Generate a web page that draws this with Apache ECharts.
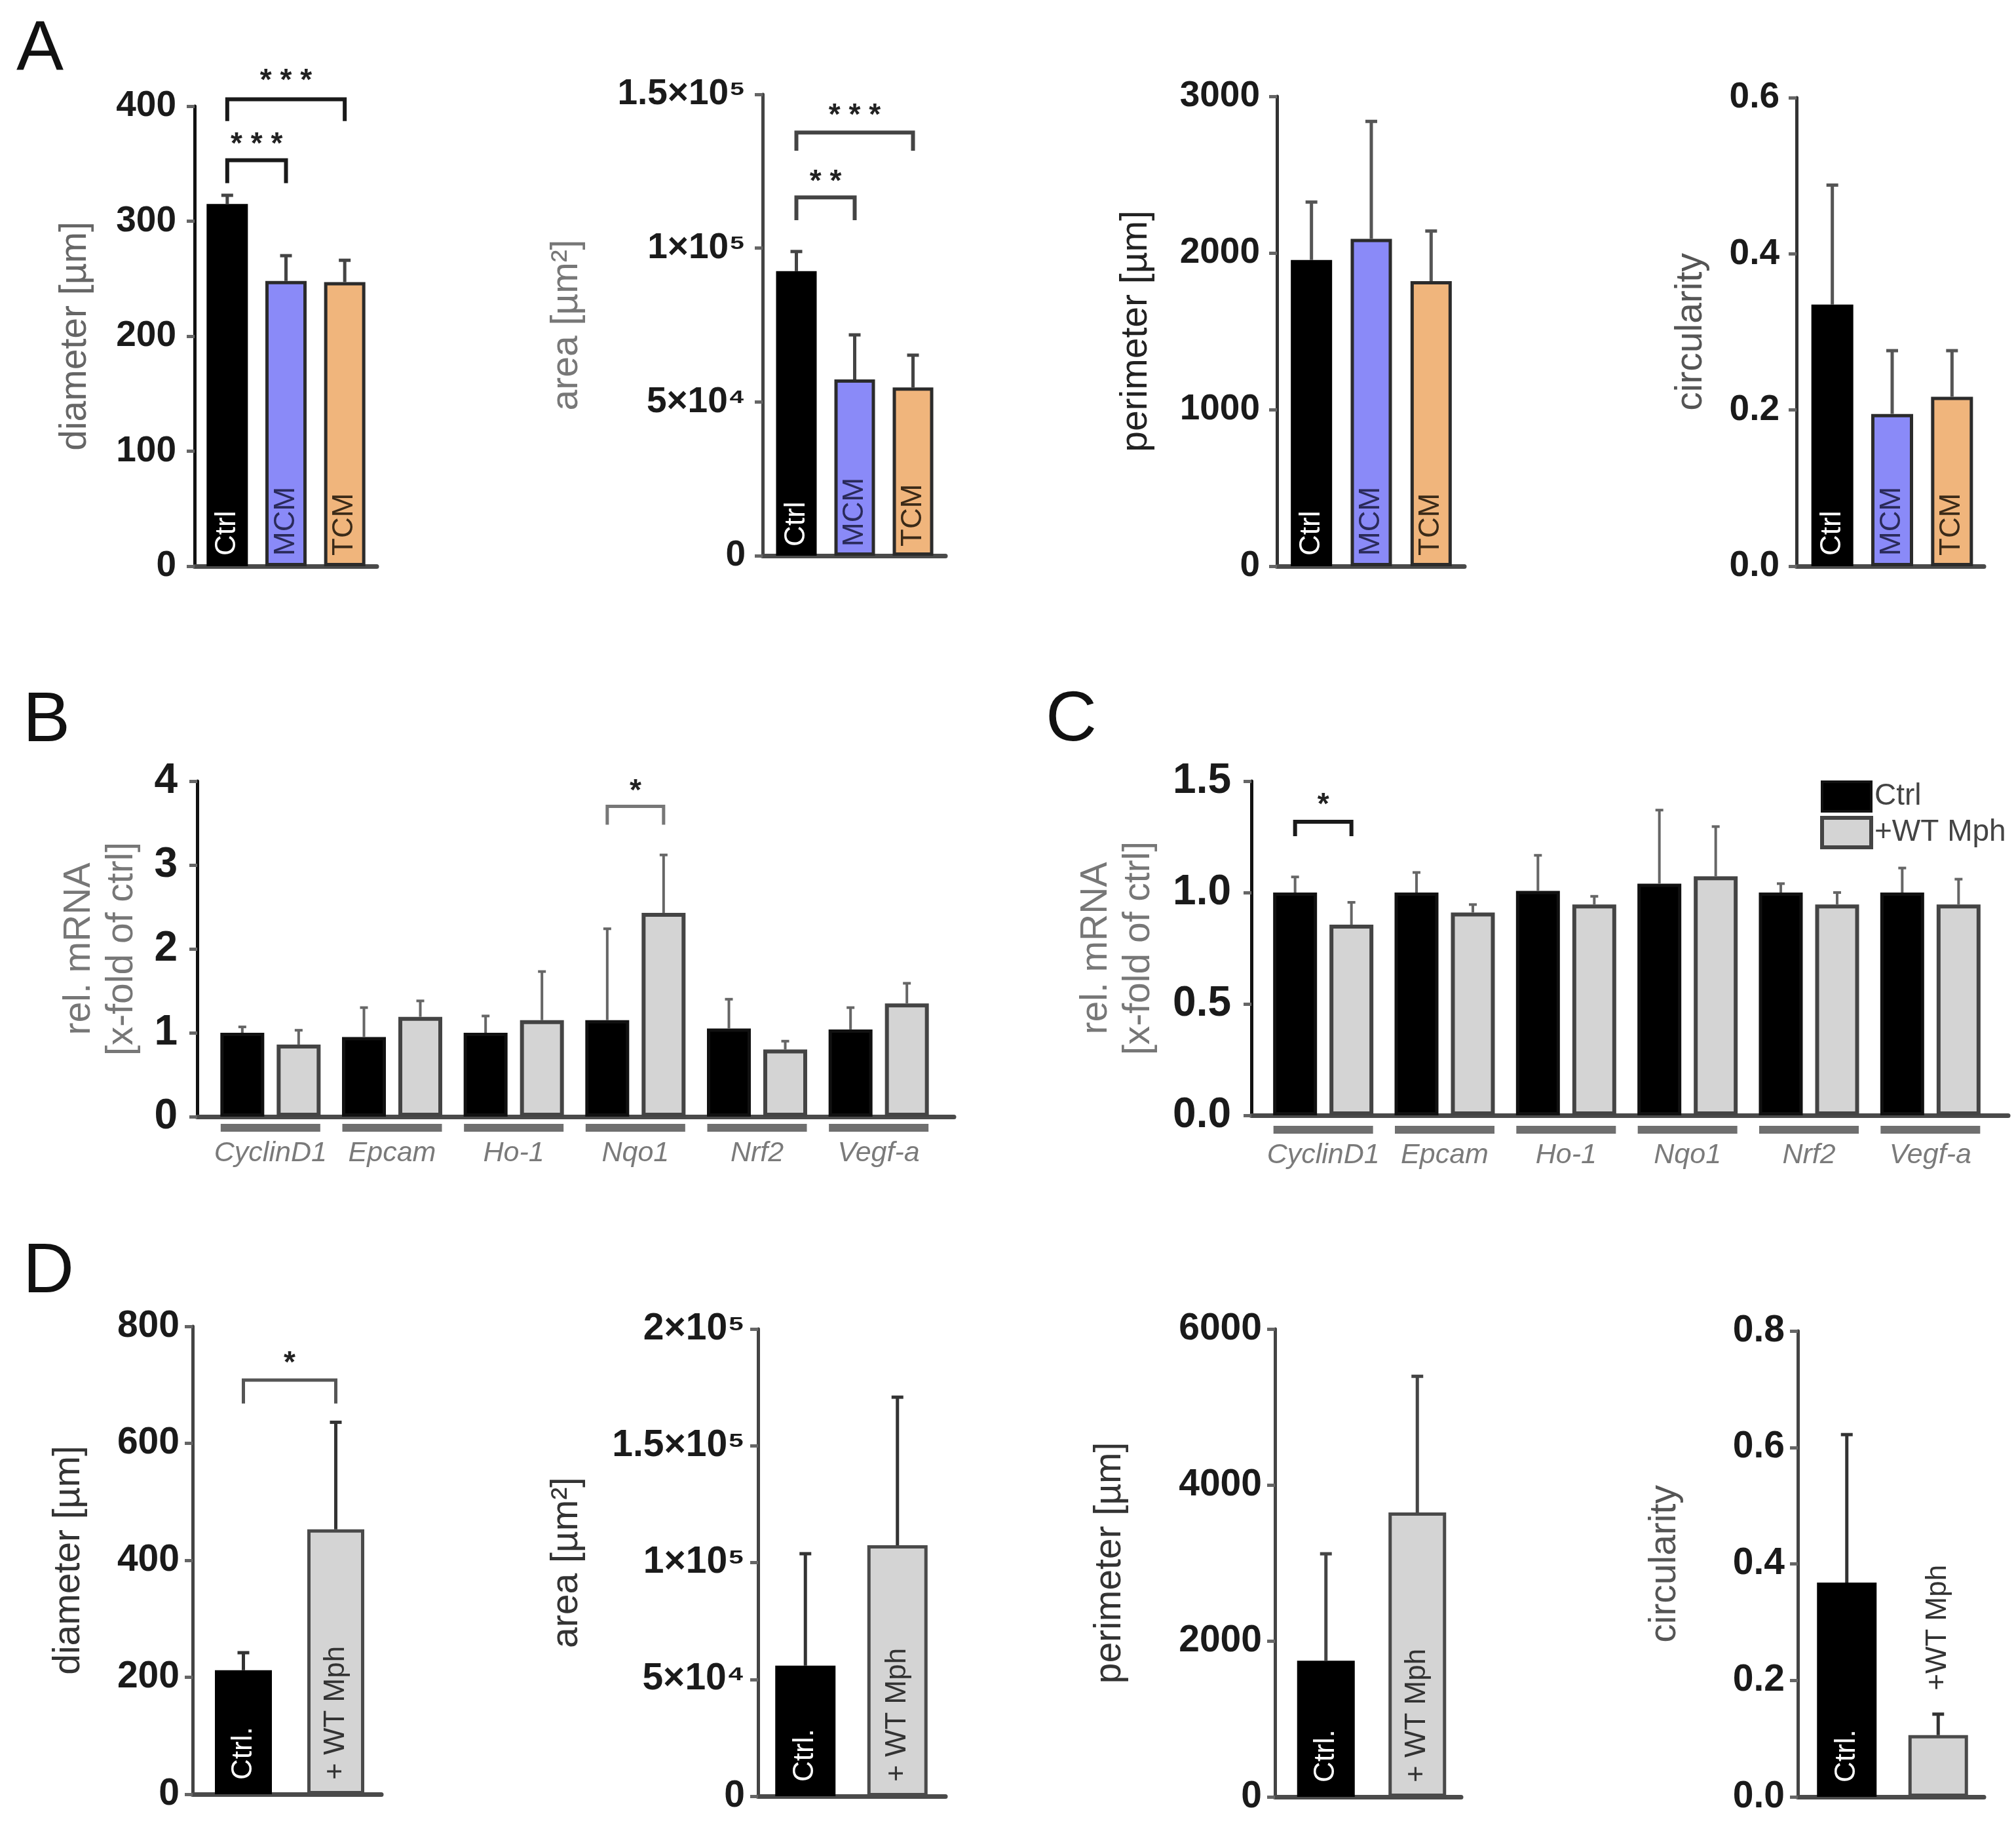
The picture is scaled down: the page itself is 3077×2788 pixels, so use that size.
<!DOCTYPE html>
<html>
<head>
<meta charset="utf-8">
<title>Spheroid size and gene expression</title>
<script src="https://cdn.jsdelivr.net/npm/echarts@6/dist/echarts.min.js"></script>
<style>
  html, body { margin: 0; padding: 0; background: #fff; }
  #chart { width: 3077px; height: 2788px; }
</style>
</head>
<body>
<div id="chart"></div>
<script>
// panel A: Ctrl / MCM / TCM
const groupsA = ['Ctrl', 'MCM', 'TCM'];
const diameterA = [315, 248, 247];
const diameterASd = [7.5, 22, 19];
const areaA = [92500, 57300, 54700];
const areaASd = [6400, 14500, 10500];
const perimeterA = [1955, 2090, 1820];
const perimeterASd = [370, 750, 320];
const circularityA = [0.335, 0.195, 0.217];
const circularityASd = [0.153, 0.081, 0.059];

// panels B and C: rel. mRNA per gene
const genes = ['CyclinD1', 'Epcam', 'Ho-1', 'Nqo1', 'Nrf2', 'Vegf-a'];
const mrnaBCtrl = [1.0, 0.95, 1.0, 1.15, 1.05, 1.04];
const mrnaBCtrlSd = [0.07, 0.35, 0.2, 1.09, 0.35, 0.26];
const mrnaBMph = [0.86, 1.19, 1.15, 2.43, 0.8, 1.35];
const mrnaBMphSd = [0.17, 0.19, 0.58, 0.69, 0.1, 0.24];
const mrnaCCtrl = [1.0, 1.0, 1.007, 1.04, 1.0, 1.0];
const mrnaCCtrlSd = [0.07, 0.09, 0.16, 0.33, 0.04, 0.11];
const mrnaCMph = [0.856, 0.91, 0.946, 1.073, 0.946, 0.946];
const mrnaCMphSd = [0.1, 0.036, 0.037, 0.223, 0.054, 0.114];
const seriesNames = ['Ctrl', '+WT Mph'];

// panel D: Ctrl. / + WT Mph
const groupsD = ['Ctrl.', '+ WT Mph'];
const groupsD4 = ['Ctrl.', '+WT Mph'];
const diameterD = [212, 453];
const diameterDSd = [30, 183];
const areaD = [55900, 107400];
const areaDSd = [47900, 63400];
const perimeterD = [1745, 3648];
const perimeterDSd = [1372, 1745];
const circularityD = [0.368, 0.106];
const circularityDSd = [0.254, 0.036];

// tick labels of the area axes
const ticksArea15 = ['0', '5×10⁴', '1×10⁵', '1.5×10⁵'];
const ticksArea20 = ['0', '5×10⁴', '1×10⁵', '1.5×10⁵', '2×10⁵'];

// significance: [from, to, bracket top, leg end, star height] in axis units
const sigA1 = [[0, 2, 406, 387, 427], [0, 1, 353, 333, 372]];
const sigA1Text = ['* * *', '* * *'];
const sigA2 = [[0, 2, 137600, 131700, 145100], [0, 1, 116500, 109100, 123600]];
const sigA2Text = ['* * *', '* *'];
const sigB = [[3, 3, 3.7, 3.48, 3.95]];
const sigC = [[0, 0, 1.318, 1.253, 1.42]];
const sigD1 = [[0, 1, 708, 668, 747]];
const sigOne = ['*'];

const FONT = '"Liberation Sans", Arial, sans-serif';
const fillsA = ['#000000', '#8a8af8', '#f0b57c'];
const bordersA = ['#000000', '#2b2b2b', '#2b2b2b'];
const textA = ['#ffffff', '#2a2a5a', '#3a2a18'];
const fillsD = ['#000000', '#d4d4d4'];
const bordersD = ['#000000', '#4a4a4a'];
const textD = ['#ffffff', '#333333'];

const chart = echarts.init(document.getElementById('chart'));
const grid = [], xAxis = [], yAxis = [], series = [];

function addPanel(c) {
  const f = grid.length, d = f + 1;
  const h = c.bottom - c.top;
  grid.push({ left: c.x0, top: c.top, width: c.x1 - c.x0, height: h, containLabel: false, outerBoundsMode: 'none' });
  grid.push({ left: c.dl, top: c.top, width: c.dw, height: h, containLabel: false, outerBoundsMode: 'none' });
  xAxis.push({
    gridIndex: f, type: 'value', min: 0, max: 1,
    axisLine: { show: true, lineStyle: { color: '#4a4a4a', width: 7 } },
    axisTick: { show: false }, axisLabel: { show: false }, splitLine: { show: false }
  });
  xAxis.push(Object.assign({ gridIndex: d, type: 'category', data: c.cats }, c.catAxis || { show: false }));
  yAxis.push({
    gridIndex: f, type: 'value', min: 0, max: c.max, interval: c.interval,
    name: c.name, nameLocation: 'middle', nameGap: c.nameGap,
    nameTextStyle: { fontSize: 57, color: c.nameColor, fontFamily: FONT, lineHeight: 65 },
    axisLine: { show: true, lineStyle: { color: c.axisColor || '#222', width: 5 } },
    axisTick: { show: true, length: 12, lineStyle: { color: '#666', width: 5 } },
    axisLabel: { formatter: c.fmt, fontSize: c.tickSize, fontWeight: 'bold', color: '#1a1a1a', margin: c.margin, fontFamily: FONT },
    splitLine: { show: false }
  });
  yAxis.push({ gridIndex: d, type: 'value', min: 0, max: c.max, show: false });
  return d;
}

function errorBars(shift, capW, lineW, color) {
  return function (params, api) {
    const i = api.value(0);
    const base = api.coord([i, api.value(1)]);
    const tip = api.coord([i, api.value(2)]);
    const x = base[0] + shift;
    const st = { stroke: color, lineWidth: lineW };
    return {
      type: 'group',
      children: [
        { type: 'line', shape: { x1: x, y1: base[1], x2: x, y2: tip[1] }, style: st },
        { type: 'line', shape: { x1: x - capW / 2, y1: tip[1], x2: x + capW / 2, y2: tip[1] }, style: st }
      ]
    };
  };
}

function addErrors(d, means, sds, shift, capW, lineW, color) {
  series.push({
    type: 'custom', xAxisIndex: d, yAxisIndex: d, clip: false, z: 4,
    data: means.map((v, i) => [i, v, v + sds[i]]),
    encode: { x: 0, y: [1, 2] },
    renderItem: errorBars(shift, capW, lineW, color)
  });
}

function addBrackets(d, sig, texts, shift1, shift2, lineW, color) {
  const fs = 46;
  series.push({
    type: 'custom', xAxisIndex: d, yAxisIndex: d, clip: false, z: 4,
    data: sig,
    encode: { x: [0, 1], y: [2, 3, 4] },
    renderItem: function (params, api) {
      const a = api.coord([api.value(0), api.value(2)]);
      const b = api.coord([api.value(1), api.value(2)]);
      const legY = api.coord([api.value(0), api.value(3)])[1];
      const starY = api.coord([api.value(0), api.value(4)])[1];
      const x1 = a[0] + shift1, x2 = b[0] + shift2;
      return {
        type: 'group',
        children: [
          { type: 'polyline', shape: { points: [[x1, legY], [x1, a[1]], [x2, a[1]], [x2, legY]] },
            style: { stroke: color, lineWidth: lineW, fill: null } },
          { type: 'text', style: { text: texts[params.dataIndex], x: (x1 + x2) / 2, y: starY + fs * 0.22,
            align: 'center', verticalAlign: 'middle', fontSize: fs, fontWeight: 'bold', fontFamily: FONT, fill: '#222' } }
        ]
      };
    }
  });
}

function addSingleBars(d, cats, means, fills, borders, texts, barW, labelDist, special) {
  series.push({
    type: 'bar', xAxisIndex: d, yAxisIndex: d, barWidth: barW, z: 2,
    data: means.map((v, i) => {
      const item = {
        value: v,
        itemStyle: { color: fills[i], borderColor: borders[i], borderWidth: 5 },
        label: { color: texts[i] }
      };
      if (special && special[i]) Object.assign(item.label, special[i]);
      return item;
    }),
    label: {
      show: true, position: 'insideBottom', distance: labelDist, rotate: 90,
      align: 'left', verticalAlign: 'middle', fontSize: 44, fontFamily: FONT,
      formatter: p => cats[p.dataIndex]
    }
  });
}

const fmtPlain = v => String(v);
const fmtFixed1 = v => v.toFixed(1);

// ---- panel A ----
let d = addPanel({ x0: 297, x1: 575, top: 162, bottom: 864, dl: 302, dw: 269, cats: groupsA,
  max: 400, interval: 100, fmt: fmtPlain, tickSize: 55, margin: 28,
  name: 'diameter [µm]', nameGap: 149, nameColor: '#666', axisColor: '#111' });
addSingleBars(d, groupsA, diameterA, fillsA, bordersA, textA, 63, 16);
addErrors(d, diameterA, diameterASd, 0, 18, 5, '#444');
addBrackets(d, sigA1, sigA1Text, 0, 0, 6, '#1a1a1a');

d = addPanel({ x0: 1164, x1: 1443, top: 144, bottom: 848, dl: 1171, dw: 267, cats: groupsA,
  max: 150000, interval: 50000, fmt: v => ticksArea15[Math.round(v / 50000)], tickSize: 55, margin: 26,
  name: 'area [µm²]', nameGap: 266, nameColor: '#777', axisColor: '#444' });
addSingleBars(d, groupsA, areaA, fillsA, bordersA, textA, 62, 14);
addErrors(d, areaA, areaASd, 0, 18, 5, '#444');
addBrackets(d, sigA2, sigA2Text, 0, 0, 6, '#444');

d = addPanel({ x0: 1949, x1: 2235, top: 147, bottom: 864, dl: 1956, dw: 274, cats: groupsA,
  max: 3000, interval: 1000, fmt: fmtPlain, tickSize: 55, margin: 26,
  name: 'perimeter [µm]', nameGap: 182, nameColor: '#222', axisColor: '#333' });
addSingleBars(d, groupsA, perimeterA, fillsA, bordersA, textA, 63, 16);
addErrors(d, perimeterA, perimeterASd, 0, 18, 5, '#555');

d = addPanel({ x0: 2742, x1: 3028, top: 149, bottom: 864, dl: 2751, dw: 274, cats: groupsA,
  max: 0.6, interval: 0.2, fmt: fmtFixed1, tickSize: 55, margin: 26,
  name: 'circularity', nameGap: 128, nameColor: '#555', axisColor: '#333' });
addSingleBars(d, groupsA, circularityA, fillsA, bordersA, textA, 64, 16);
addErrors(d, circularityA, circularityASd, 0, 18, 5, '#555');

// ---- panels B and C ----
function geneAxis(margin) {
  return {
    axisLine: { show: false }, axisTick: { show: false },
    axisLabel: {
      interval: 0, margin: margin,
      formatter: v => '{u|}\n{t|' + v + '}',
      rich: {
        u: { width: 152, height: 12, backgroundColor: '#6f6f6f' },
        t: { fontSize: 43, fontStyle: 'italic', color: '#7a7a7a', lineHeight: 66, fontFamily: FONT }
      }
    }
  };
}
const BW = 67, BG = 19, OFF = (BW + BG) / 2;

function addGeneBars(d, ctrl, ctrlSd, mph, mphSd) {
  series.push({
    name: seriesNames[0], type: 'bar', xAxisIndex: d, yAxisIndex: d, barWidth: BW, barGap: (BG / BW * 100) + '%',
    itemStyle: { color: '#000', borderColor: '#111', borderWidth: 5 }, data: ctrl
  });
  series.push({
    name: seriesNames[1], type: 'bar', xAxisIndex: d, yAxisIndex: d, barWidth: BW, barGap: (BG / BW * 100) + '%',
    itemStyle: { color: '#d4d4d4', borderColor: '#444', borderWidth: 6 }, data: mph
  });
  addErrors(d, ctrl, ctrlSd, -OFF, 12, 4, '#666');
  addErrors(d, mph, mphSd, OFF, 12, 4, '#666');
}

d = addPanel({ x0: 301, x1: 1456, top: 1192, bottom: 1704, dl: 320, dw: 1114, cats: genes,
  catAxis: geneAxis(11), max: 4, interval: 1, fmt: fmtPlain, tickSize: 64, margin: 30,
  name: 'rel. mRNA\n[x-fold of ctrl]', nameGap: 82, nameColor: '#777', axisColor: '#111' });
addGeneBars(d, mrnaBCtrl, mrnaBCtrlSd, mrnaBMph, mrnaBMphSd);
addBrackets(d, sigB, sigOne, -OFF, OFF, 5, '#777');

d = addPanel({ x0: 1910, x1: 3065, top: 1192, bottom: 1702, dl: 1927, dw: 1112, cats: genes,
  catAxis: geneAxis(16), max: 1.5, interval: 0.5, fmt: fmtFixed1, tickSize: 64, margin: 31,
  name: 'rel. mRNA\n[x-fold of ctrl]', nameGap: 139, nameColor: '#777', axisColor: '#111' });
addGeneBars(d, mrnaCCtrl, mrnaCCtrlSd, mrnaCMph, mrnaCMphSd);
addBrackets(d, sigC, sigOne, -OFF, OFF, 6, '#1a1a1a');

// ---- panel D ----
d = addPanel({ x0: 294, x1: 582, top: 2024, bottom: 2738, dl: 301, dw: 282, cats: groupsD,
  max: 800, interval: 200, fmt: fmtPlain, tickSize: 57, margin: 20,
  name: 'diameter [µm]', nameGap: 156, nameColor: '#333', axisColor: '#444' });
addSingleBars(d, groupsD, diameterD, fillsD, bordersD, textD, 87, 22);
addErrors(d, diameterD, diameterDSd, 0, 18, 5, '#333');
addBrackets(d, sigD1, sigOne, 0, 0, 5, '#555');

d = addPanel({ x0: 1157, x1: 1443, top: 2028, bottom: 2741, dl: 1159, dw: 281, cats: groupsD,
  max: 200000, interval: 50000, fmt: v => ticksArea20[Math.round(v / 50000)], tickSize: 57, margin: 20,
  name: 'area [µm²]', nameGap: 259, nameColor: '#333', axisColor: '#444' });
addSingleBars(d, groupsD, areaD, fillsD, bordersD, textD, 92, 22);
addErrors(d, areaD, areaDSd, 0, 18, 5, '#333');

d = addPanel({ x0: 1946, x1: 2230, top: 2028, bottom: 2742, dl: 1954, dw: 279, cats: groupsD,
  max: 6000, interval: 2000, fmt: fmtPlain, tickSize: 57, margin: 20,
  name: 'perimeter [µm]', nameGap: 219, nameColor: '#333', axisColor: '#444' });
addSingleBars(d, groupsD, perimeterD, fillsD, bordersD, textD, 88, 22);
addErrors(d, perimeterD, perimeterDSd, 0, 18, 5, '#444');

d = addPanel({ x0: 2744, x1: 3028, top: 2031, bottom: 2742, dl: 2749, dw: 279, cats: groupsD4,
  max: 0.8, interval: 0.2, fmt: fmtFixed1, tickSize: 57, margin: 20,
  name: 'circularity', nameGap: 170, nameColor: '#555', axisColor: '#444' });
addSingleBars(d, groupsD4, circularityD, fillsD, bordersD, textD, 91, 22,
  [null, { position: 'top', distance: 68 }]);
addErrors(d, circularityD, circularityDSd, 0, 18, 5, '#333');

const letter = (t, x, y) => ({
  type: 'text', x: x, y: y,
  style: { text: t, fontSize: 108, fontFamily: FONT, fill: '#111', verticalAlign: 'middle' }
});

chart.setOption({
  animation: false,
  backgroundColor: '#ffffff',
  textStyle: { fontFamily: FONT },
  grid: grid,
  xAxis: xAxis,
  yAxis: yAxis,
  legend: {
    orient: 'vertical', left: 2773, top: 1186, itemWidth: 75, itemHeight: 45, itemGap: 5,
    icon: 'rect', selectedMode: false,
    textStyle: { fontSize: 46, color: '#444', fontFamily: FONT },
    data: [
      { name: seriesNames[0], itemStyle: { color: '#000', borderColor: '#111', borderWidth: 4 } },
      { name: seriesNames[1], itemStyle: { color: '#d4d4d4', borderColor: '#444', borderWidth: 6 } }
    ]
  },
  graphic: [letter('A', 25, 77), letter('B', 35, 1101), letter('C', 1596, 1100), letter('D', 35, 1942)],
  series: series
});
</script>
</body>
</html>
